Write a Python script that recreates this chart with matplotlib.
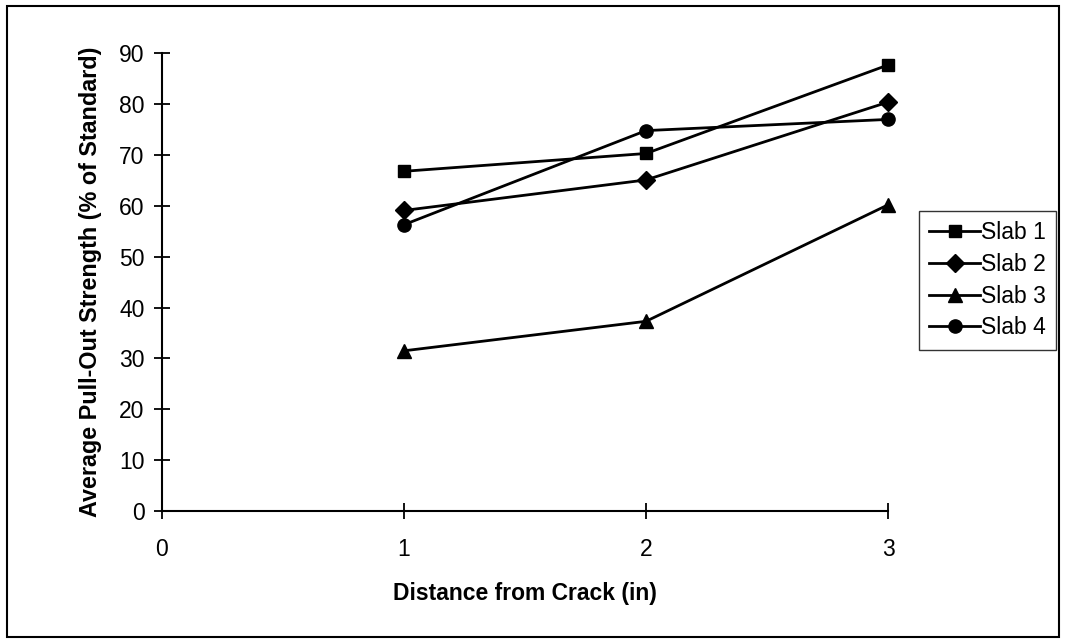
import matplotlib.pyplot as plt
from matplotlib.patches import Rectangle

# distance from crack (in)
distance = [1, 2, 3]

slab1 = [66.8, 70.3, 87.7]
slab2 = [59.1, 65.1, 80.4]
slab3 = [31.5, 37.3, 60.2]
slab4 = [56.3, 74.8, 77.0]

series_names = ["Slab 1", "Slab 2", "Slab 3", "Slab 4"]
markers = ["s", "D", "^", "o"]
msizes = [9, 8.8, 10.5, 9.5]

yticks = [0, 10, 20, 30, 40, 50, 60, 70, 80, 90]
xticks = [0, 1, 2, 3]

plt.rcParams['font.family'] = ['Liberation Sans', 'DejaVu Sans']

fig = plt.figure(figsize=(10.66, 6.39), dpi=100)
ax = fig.add_axes([162 / 1066, 1 - 511 / 639, (888 - 162) / 1066, (511 - 53.3) / 639])

for vals, name, m, ms in zip([slab1, slab2, slab3, slab4], series_names, markers, msizes):
    ax.plot(distance, vals, color='black', linewidth=2, marker=m, markersize=ms,
            markerfacecolor='black', markeredgecolor='black', label=name, clip_on=False)

ax.set_xlim(0, 3)
ax.set_ylim(0, 90)
ax.set_xticks(xticks)
ax.set_yticks(yticks)
ax.spines["top"].set_visible(False)
ax.spines["right"].set_visible(False)
ax.spines["left"].set_linewidth(1.5)
ax.spines["bottom"].set_linewidth(1.5)
ax.tick_params(axis='both', direction='inout', length=11, width=1.3, labelsize=16.5)
ax.tick_params(axis='x', pad=14)
ax.tick_params(axis='y', pad=7)

ax.set_xlabel("Distance from Crack (in)", fontsize=16.5, fontweight='bold', labelpad=15)
ax.set_ylabel("Average Pull-Out Strength (% of Standard)", fontsize=16.8, fontweight='bold', labelpad=12)

leg = ax.legend(loc='upper left', bbox_to_anchor=(919 / 1066, 1 - 211 / 639),
                bbox_transform=fig.transFigure, borderaxespad=0, fontsize=16.5,
                frameon=True, fancybox=False, handlelength=2.2, handletextpad=0.05,
                labelspacing=0.38, borderpad=0.45)
leg.get_frame().set_edgecolor('black')
leg.get_frame().set_linewidth(1.0)

# outer chart border
fig.patches.append(Rectangle((7 / 1066, 2 / 639), (1059 - 7) / 1066, (633 - 2) / 639,
                             transform=fig.transFigure, fill=False,
                             edgecolor='black', linewidth=1.5))

fig.savefig("out.png", dpi=100)
